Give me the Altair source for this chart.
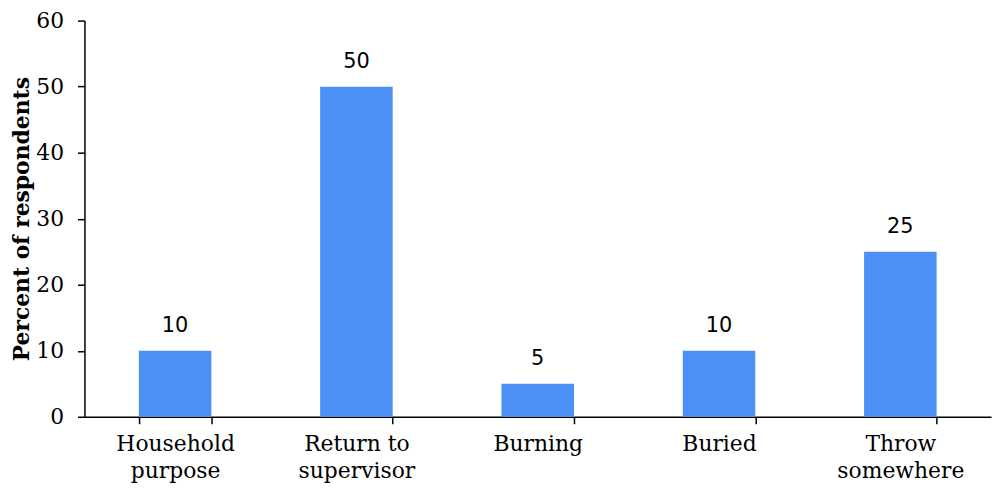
import altair as alt
import pandas as pd

categories = ["Household|purpose", "Return to|supervisor", "Burning", "Buried", "Throw|somewhere"]
values = [10, 50, 5, 10, 25]

df = pd.DataFrame({"cat": categories, "val": values})

base = alt.Chart(df).encode(
    x=alt.X("cat:N", sort=categories,
            scale=alt.Scale(paddingInner=0.6, paddingOuter=0.3),
            axis=alt.Axis(title=None, labelAngle=0, tickBand="extent",
                          labelExpr="split(datum.label, '|')",
                          labelFont="DejaVu Serif", labelFontSize=22,
                          labelColor="#000", labelLineHeight=27,
                          labelPadding=10, tickSize=7, tickColor="#000",
                          tickWidth=1.5, domainColor="#000", domainWidth=1.5)),
    y=alt.Y("val:Q", scale=alt.Scale(domain=[0, 60]),
            axis=alt.Axis(title="Percent of respondents", values=[0, 10, 20, 30, 40, 50, 60],
                          grid=False, labelFont="DejaVu Serif", labelFontSize=22,
                          labelColor="#000", labelPadding=14, tickSize=7,
                          tickColor="#000", tickWidth=1.5, domainColor="#000",
                          domainWidth=1.5, titleFont="DejaVu Serif", titleFontSize=22,
                          titleFontWeight="bold", titleColor="#000",
                          titleX=-56, titleBaseline="alphabetic")),
)

bars = base.mark_bar(color="#4a90f5")
text = base.mark_text(dy=-25, font="DejaVu Sans", fontSize=21, color="#000").encode(text="val:Q")

chart = (bars + text).properties(
    width=913, height=399,
    padding={"left": 77, "top": 11, "right": 1, "bottom": 65},
    autosize=alt.AutoSizeParams(type="none"),
).configure_view(stroke=None)

chart.save("out.html", embed_options={"renderer": "svg", "actions": False})
